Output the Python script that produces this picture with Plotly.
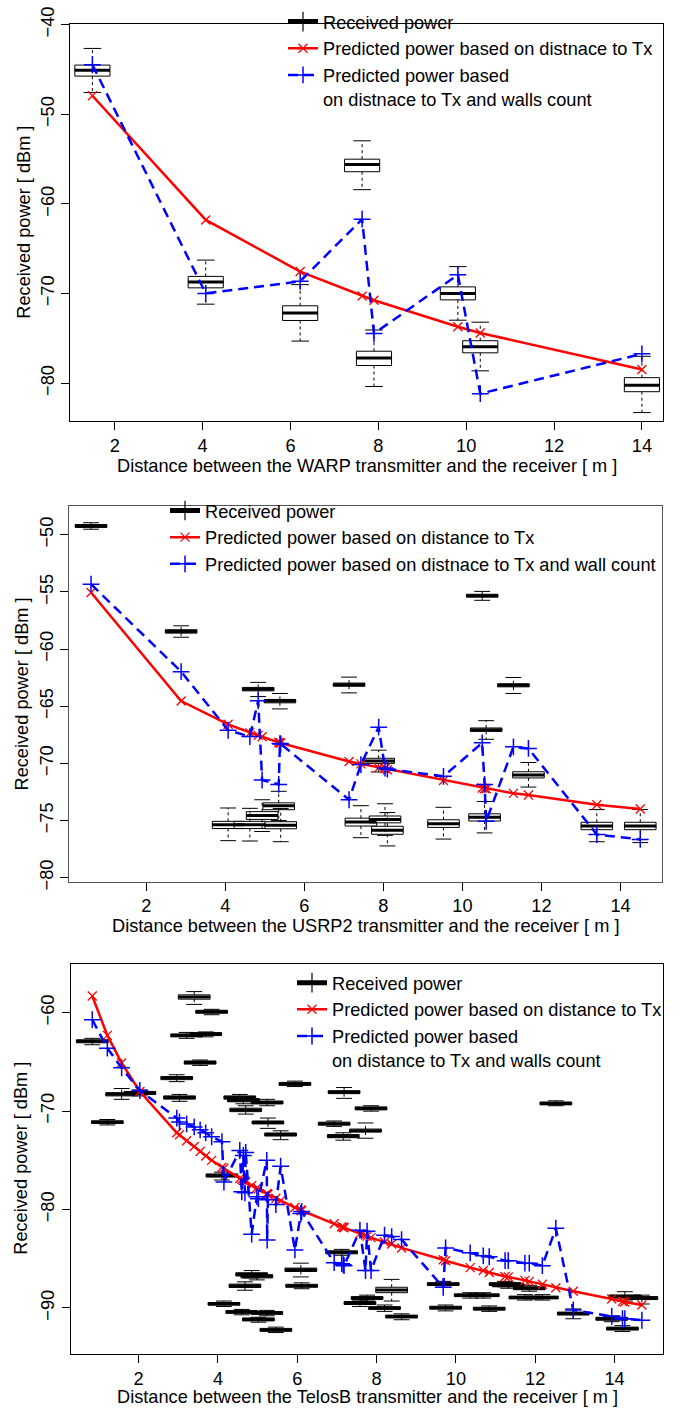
import plotly.graph_objects as go

FONT = "Liberation Sans, Arial, Helvetica, sans-serif"
FS = 18.2
W, H = 683, 1421

# ---------------- WARP panel (top) ----------------
warp_dist = [1.49, 4.07, 6.22, 7.63, 7.90, 9.81, 10.32, 14.0]
warp_med = [-45.08, -68.7, -72.17, -55.6, -77.2, -69.98, -75.92, -80.22]
warp_q1 = [-45.73, -69.36, -73.0, -56.4, -78.03, -70.7, -76.61, -80.95]
warp_q3 = [-44.5, -68.08, -71.36, -55.0, -76.43, -69.25, -75.26, -79.38]
warp_wlo = [-47.56, -71.18, -75.3, -58.4, -80.37, -72.97, -78.62, -83.28]
warp_whi = [-42.64, -66.26, -69.0, -52.95, -74.06, -66.99, -73.19, -77.0]
warp_pred_dist = [-47.92, -61.78, -67.54, -70.27, -70.74, -73.7, -74.39, -78.47]
warp_pred_walls = [-44.46, -69.98, -68.63, -61.7, -74.46, -67.9, -81.17, -76.72]

# ---------------- USRP2 panel (middle) ----------------
usrp_dist = [0.6, 2.88, 4.07, 4.62, 4.83, 4.93, 5.35, 5.38, 5.40, 7.13, 7.43,
             7.88, 8.04, 8.10, 9.52, 10.50, 10.56, 10.60, 11.29, 11.67, 13.40, 14.50]
usrp_med = [-49.23, -58.45, -75.36, -75.36, -63.5, -74.56, -73.7, -64.54, -75.41, -63.11, -75.13,
            -69.78, -74.9, -75.84, -75.27, -55.33, -74.7, -67.06, -63.17, -71.01, -75.47, -75.47]
usrp_q1 = [-49.35, -58.6, -75.7, -75.7, -63.65, -74.9, -74.05, -64.7, -75.72, -63.25, -75.48,
           -70.0, -75.2, -76.2, -75.6, -55.45, -75.04, -67.2, -63.3, -71.27, -75.8, -75.8]
usrp_q3 = [-49.1, -58.3, -75.07, -75.07, -63.35, -74.22, -73.45, -64.4, -75.1, -62.97, -74.79,
           -69.55, -74.6, -75.5, -74.93, -55.2, -74.41, -66.9, -63.03, -70.73, -75.15, -75.15]
usrp_wlo = [-49.51, -58.96, -76.76, -76.79, -64.15, -75.96, -75.0, -65.23, -76.85, -63.83, -76.5,
            -70.75, -76.3, -77.22, -76.62, -55.73, -76.08, -67.89, -63.88, -72.07, -76.85, -76.93]
usrp_whi = [-48.94, -57.96, -73.9, -73.93, -62.91, -73.18, -72.44, -63.88, -73.95, -62.45, -73.7,
            -68.84, -73.53, -74.3, -73.84, -54.95, -73.33, -66.26, -62.48, -69.92, -74.04, -74.04]
usrp_pred_dist = [-55.04, -64.54, -66.58, -67.33, -67.55, -67.67, -68.15, -68.2, -68.22, -69.84, -70.04,
                  -70.38, -70.45, -70.55, -71.5, -72.15, -72.19, -72.22, -72.62, -72.76, -73.61, -73.99]
usrp_pred_walls = [-54.32, -61.97, -67.1, -67.65, -64.52, -71.45, -71.84, -68.26, -68.3, -73.18, -70.1,
                   -66.83, -70.41, -70.5, -71.13, -68.2, -71.84, -75.07, -68.55, -68.69, -76.22, -76.65]

# ---------------- TelosB panel (bottom) ----------------
telos_dist = [0.83, 1.21, 1.57, 2.03, 2.96, 3.03, 3.21, 3.40, 3.55, 3.69, 3.84, 4.10, 4.15, 4.55,
              4.60, 4.64, 4.68, 4.70, 4.85, 4.98, 5.02, 5.23, 5.24, 5.26, 5.46, 5.58, 5.94, 6.09,
              6.11, 6.93, 7.12, 7.16, 7.18, 7.58, 7.72, 7.76, 7.86, 8.20, 8.38, 8.63, 9.68, 9.74,
              10.36, 10.69, 10.84, 11.24, 11.32, 11.74, 11.85, 12.18, 12.52, 12.96, 13.93, 14.20,
              14.26, 14.69]
telos_med = [-62.9, -71.12, -68.28, -68.15, -66.63, -68.62, -62.3, -58.4, -65.06, -62.17, -59.9,
             -76.54, -89.58, -68.62, -90.41, -68.88, -87.75, -69.88, -86.59, -86.79, -91.18, -90.51,
             -69.12, -71.15, -92.23, -72.38, -67.23, -86.12, -87.75, -71.28, -84.35, -72.54, -68.08,
             -89.5, -71.98, -89.0, -69.72, -90.01, -88.18, -90.88, -87.58, -89.98, -88.71, -88.71,
             -90.08, -87.58, -87.7, -88.94, -88.0, -88.94, -69.22, -90.57, -91.1, -92.1, -88.84, -89.0]
telos_q1 = [-63.05, -71.25, -68.45, -68.3, -66.8, -68.78, -62.45, -58.62, -65.22, -62.32, -60.05,
            -76.7, -89.72, -68.78, -90.55, -69.05, -87.92, -70.05, -86.75, -86.95, -91.32, -90.65,
            -69.27, -71.3, -92.37, -72.53, -67.38, -86.3, -87.9, -71.42, -84.5, -72.7, -68.22,
            -89.65, -72.12, -89.15, -69.87, -90.15, -88.45, -91.02, -87.72, -90.12, -88.85, -88.85,
            -90.22, -87.72, -87.85, -89.08, -88.15, -89.08, -69.36, -90.72, -91.25, -92.25, -89.0, -89.15]
telos_q3 = [-62.75, -70.98, -68.12, -68.0, -66.48, -68.45, -62.15, -58.18, -64.9, -62.02, -59.75,
            -76.38, -89.45, -68.45, -90.27, -68.72, -87.58, -69.7, -86.42, -86.62, -91.02, -90.36,
            -68.97, -71.0, -92.08, -72.22, -67.08, -85.95, -87.6, -71.12, -84.2, -72.38, -67.92,
            -89.35, -71.82, -88.85, -69.57, -89.87, -87.9, -90.73, -87.43, -89.83, -88.57, -88.57,
            -89.93, -87.43, -87.55, -88.8, -87.85, -88.8, -69.07, -90.42, -90.95, -91.95, -88.68, -88.85]
telos_wlo = [-63.25, -71.4, -68.8, -68.45, -67.0, -69.0, -62.6, -59.15, -65.35, -62.45, -60.2,
             -77.0, -89.85, -68.95, -90.7, -69.25, -88.2, -70.3, -86.95, -87.15, -91.45, -90.8,
             -69.45, -71.75, -92.5, -72.9, -67.5, -86.85, -88.05, -71.55, -84.65, -72.95, -68.7,
             -89.85, -72.75, -89.3, -70.0, -90.35, -89.3, -91.2, -87.9, -90.3, -89.0, -89.0,
             -90.35, -87.85, -88.0, -89.2, -88.3, -89.2, -69.45, -91.1, -91.4, -92.4, -89.3, -89.6]
telos_whi = [-62.6, -70.85, -67.7, -67.85, -66.3, -68.3, -62.0, -57.85, -64.8, -61.95, -59.65,
             -76.2, -89.3, -68.3, -90.15, -68.6, -87.35, -69.45, -86.2, -86.5, -90.95, -90.25,
             -68.8, -70.7, -91.95, -72.0, -66.95, -85.45, -87.45, -71.0, -84.05, -72.2, -67.6,
             -89.2, -71.2, -88.7, -69.45, -89.7, -87.1, -90.6, -87.3, -89.7, -88.45, -88.45,
             -89.8, -87.3, -87.4, -88.65, -87.7, -88.65, -68.95, -90.1, -90.8, -91.8, -88.35, -88.7]
telos_pred_dist = [-58.3, -62.3, -65.1, -68.0, -72.2, -72.4, -73.0, -73.6, -74.1, -74.55, -75.0,
                   -75.7, -75.8, -76.85, -76.95, -77.05, -77.15, -77.2, -77.55, -77.8, -77.9, -78.4,
                   -78.4, -78.45, -78.85, -79.1, -79.8, -80.05, -80.1, -81.45, -81.75, -81.8, -81.85,
                   -82.45, -82.6, -82.7, -82.85, -83.3, -83.5, -83.9, -85.1, -85.2, -85.9, -86.2,
                   -86.4, -86.8, -86.85, -87.2, -87.3, -87.6, -87.95, -88.3, -89.1, -89.35, -89.4, -89.7]
telos_pred_walls = [-60.7, -63.6, -65.6, -67.9, -70.7, -71.1, -71.3, -71.6, -71.9, -72.2, -72.6,
                    -73.1, -77.2, -74.0, -78.2, -74.5, -78.3, -74.2, -82.5, -78.7, -78.9, -75.0,
                    -83.1, -79.0, -79.5, -75.6, -84.1, -80.4, -80.2, -85.4, -85.5, -85.6, -85.7,
                    -82.1, -86.2, -82.2, -86.2, -82.6, -82.75, -83.05, -87.9, -83.9, -84.4, -84.7,
                    -84.8, -85.2, -85.2, -85.45, -85.45, -85.7, -81.9, -90.2, -90.85, -91.1, -91.1, -91.25]

BOX_W = 0.8
CAP_HALF = 0.2


def vsegs(pos, a, b):
    xs, ys = [], []
    for p, lo, hi in zip(pos, a, b):
        xs += [p, p, None]
        ys += [lo, hi, None]
    return xs, ys


def hsegs(pos, vals, half):
    xs, ys = [], []
    for p, v in zip(pos, vals):
        xs += [p - half, p + half, None]
        ys += [v, v, None]
    return xs, ys


fig = go.Figure()


def add_panel(k, dist, med, q1, q3, wlo, whi, pdist, pwalls, name_d, name_w):
    xa = "x" if k == 1 else f"x{k}"
    ya = "y" if k == 1 else f"y{k}"
    lg = "legend" if k == 1 else f"legend{k}"
    common = dict(xaxis=xa, yaxis=ya, hoverinfo="skip")

    # box bodies
    fig.add_trace(go.Box(
        x=dist, q1=q1, median=med, q3=q3, lowerfence=q1, upperfence=q3,
        width=BOX_W, whiskerwidth=0, fillcolor="white",
        line=dict(color="black", width=1), boxpoints=False,
        showlegend=False, **common))

    # dashed whiskers
    wx1, wy1 = vsegs(dist, q3, whi)
    wx2, wy2 = vsegs(dist, q1, wlo)
    fig.add_trace(go.Scatter(x=wx1 + wx2, y=wy1 + wy2, mode="lines",
                             line=dict(color="black", width=1, dash="3px,3px"),
                             showlegend=False, **common))
    # staples
    cx1, cy1 = hsegs(dist, whi, CAP_HALF)
    cx2, cy2 = hsegs(dist, wlo, CAP_HALF)
    fig.add_trace(go.Scatter(x=cx1 + cx2, y=cy1 + cy2, mode="lines",
                             line=dict(color="black", width=1),
                             showlegend=False, **common))
    # thick medians
    mx, my = hsegs(dist, med, BOX_W / 2)
    fig.add_trace(go.Scatter(x=mx, y=my, mode="lines",
                             line=dict(color="black", width=3),
                             showlegend=False, **common))

    # legend-only entry for the boxes
    fig.add_trace(go.Scatter(x=[None], y=[None], mode="lines+markers",
                             name="Received power", legend=lg,
                             line=dict(color="black", width=5),
                             marker=dict(symbol="line-ns", size=14,
                                         line=dict(color="black", width=1.2)),
                             **common))

    fig.add_trace(go.Scatter(x=dist, y=pdist, mode="lines+markers", name=name_d, legend=lg,
                             line=dict(color="red", width=2.5),
                             marker=dict(symbol="x-thin", size=9, color="red",
                                         line=dict(color="red", width=1.3)),
                             **common))
    fig.add_trace(go.Scatter(x=dist, y=pwalls, mode="lines+markers", name=name_w, legend=lg,
                             line=dict(color="blue", width=2.5, dash="10px,6px"),
                             marker=dict(symbol="cross-thin", size=12, color="blue",
                                         line=dict(color="blue", width=1.5)),
                             **common))


add_panel(1, warp_dist, warp_med, warp_q1, warp_q3, warp_wlo, warp_whi,
          warp_pred_dist, warp_pred_walls,
          "Predicted power based on distnace to Tx",
          "Predicted power based<br>on distnace to Tx and walls count")
add_panel(2, usrp_dist, usrp_med, usrp_q1, usrp_q3, usrp_wlo, usrp_whi,
          usrp_pred_dist, usrp_pred_walls,
          "Predicted power based on distance to Tx",
          "Predicted power based on distnace to Tx and wall count")
add_panel(3, telos_dist, telos_med, telos_q1, telos_q3, telos_wlo, telos_whi,
          telos_pred_dist, telos_pred_walls,
          "Predicted power based on distance to Tx",
          "Predicted power based<br>on distance to Tx and walls count")


def px(v):
    return v / W


def py(v):
    return 1 - v / H


def xaxis_cfg(left, right, rng, anchor, color):
    return dict(domain=[px(left), px(right)], range=rng, anchor=anchor,
                tickvals=[2, 4, 6, 8, 10, 12, 14], ticks="outside", ticklen=8,
                tickcolor="black", showline=True, mirror=True, linecolor=color,
                linewidth=1, showgrid=False, zeroline=False,
                tickfont=dict(size=FS, family=FONT, color="black"))


def yaxis_cfg(top, bottom, rng, ticks, anchor, color):
    return dict(domain=[py(bottom), py(top)], range=rng, anchor=anchor,
                tickvals=ticks, ticks="outside", ticklen=8, tickangle=-90,
                tickcolor="black", showline=True, mirror=True, linecolor=color,
                linewidth=1, showgrid=False, zeroline=False,
                ticklabeloverflow="allow",
                tickfont=dict(size=FS, family=FONT, color="black"))


def legend_cfg(left, top):
    return dict(x=px(left), y=py(top), xanchor="left", yanchor="top",
                bgcolor="rgba(0,0,0,0)", borderwidth=0, itemwidth=30,
                tracegroupgap=0, valign="top",
                font=dict(size=FS, family=FONT, color="black"))


def note(text, x, y, angle=0, anchor="center"):
    return dict(text=text, x=px(x), y=py(y), xref="paper", yref="paper",
                xanchor=anchor, yanchor="middle", textangle=angle, showarrow=False,
                font=dict(size=FS, family=FONT, color="black"))


fig.update_layout(
    width=W, height=H, margin=dict(l=0, r=0, t=0, b=0),
    paper_bgcolor="white", plot_bgcolor="white", boxmode="overlay",
    xaxis=xaxis_cfg(70, 663, [0.98, 14.48], "y", "black"),
    yaxis=yaxis_cfg(7, 412, [-84.27, -39.9], [-80, -70, -60, -50, -40], "x", "black"),
    xaxis2=xaxis_cfg(69.3, 662, [0.05, 15.05], "y2", "#555555"),
    yaxis2=yaxis_cfg(498.5, 880.7, [-80.34, -47.51], [-80, -75, -70, -65, -60, -55, -50], "x2", "#555555"),
    xaxis3=xaxis_cfg(70.7, 663.3, [0.286, 15.23], "y3", "black"),
    yaxis3=yaxis_cfg(964.3, 1361.7, [-94.66, -55.01], [-90, -80, -70, -60], "x3", "black"),
    legend=legend_cfg(283, -14),
    legend2=legend_cfg(165, 484),
    legend3=legend_cfg(292, 965),
    annotations=[
        note("Distance between the WARP transmitter and the receiver [ m ]", 366.5, 457),
        note("Distance between the USRP2 transmitter and the receiver [ m ]", 365.7, 925.7),
        note("Distance between the TelosB transmitter and the receiver [ m ]", 367, 1405.7),
        note("Received power [ dBm ]", 24, 209.5, -90),
        note("Received power [ dBm ]", 21.5, 689.6, -90),
        note("Received power [ dBm ]", 21, 1163, -90),
    ],
)

# drop the browser's default 8px page margin so the figure sits at the window origin
fig.write_html("out.html", config={"displayModeBar": False},
               post_script="document.body.style.margin = '0px';")
